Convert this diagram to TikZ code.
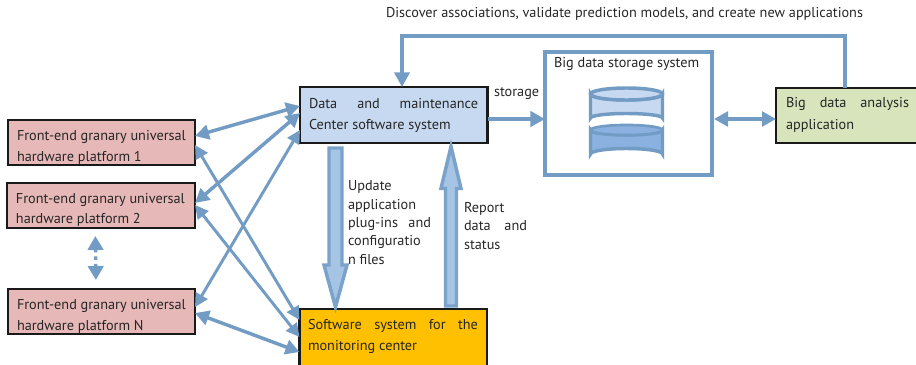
\documentclass[tikz,border=0pt]{standalone}
\usepackage{fontspec}
\setmainfont{PT Sans}
\usetikzlibrary{arrows.meta,calc}
\definecolor{arrowblue}{HTML}{729CC4}
\definecolor{bigfill}{HTML}{A6C4E4}
\definecolor{bigedge}{HTML}{7BA3CA}
\definecolor{pinkfill}{HTML}{E6B8B7}
\definecolor{datafill}{HTML}{C6D9F1}
\definecolor{softfill}{HTML}{FFC000}
\definecolor{greenfill}{HTML}{D7E4BC}
\definecolor{boxedge}{HTML}{1A1A1A}
\definecolor{cyllight}{HTML}{C6D9F1}
\definecolor{cyldark}{HTML}{8AB1DF}
\tikzset{
  dy/.style={yshift=-#1*0.75pt},
  dx/.style={xshift=#1*0.75pt},
  solidbox/.style={draw=boxedge,line width=1.8pt,anchor=north west,inner sep=0pt,outer sep=0pt},
  lbl/.style={anchor=base west,inner sep=0pt,outer sep=0pt,font=\fontsize{10.7pt}{12pt}\selectfont,text=black!85},
  twoway/.style={draw=arrowblue,line width=2.6pt,{Triangle[length=10.5pt,width=11pt]}-{Triangle[length=10.5pt,width=11pt]}},
  thinway/.style={draw=arrowblue,line width=2.2pt,{Triangle[length=10pt,width=10pt]}-{Triangle[length=10pt,width=10pt]}},
  oneway/.style={draw=arrowblue,line width=2.8pt,-{Triangle[length=11pt,width=11.5pt]}},
  bigarrow/.style={draw=bigedge,fill=bigfill,line width=2.6pt,line join=miter},
  cyl/.style={draw=arrowblue,line width=2.6pt},
}
\newcommand{\just}[2]{\makebox[\dimexpr#1pt*3/4\relax][s]{#2}}
\begin{document}
\begin{tikzpicture}[x=0.75pt,y=-0.75pt]
\useasboundingbox (0,0) rectangle (916,364);
\clip (0,0) rectangle (916,364);
% boxes
\node[solidbox,fill=pinkfill,minimum width=187*0.75pt,minimum height=45*0.75pt] (p1) at (8,120) {};
\node[solidbox,fill=pinkfill,minimum width=188*0.75pt,minimum height=45*0.75pt] (p2) at (7,183) {};
\node[solidbox,fill=pinkfill,minimum width=187*0.75pt,minimum height=45*0.75pt] (pn) at (8,289) {};
\node[solidbox,fill=datafill,minimum width=187.5*0.75pt,minimum height=56*0.75pt] (data) at (300,87) {};
\node[solidbox,fill=softfill,minimum width=187.5*0.75pt,minimum height=70*0.75pt] (soft) at (299.5,309) {};
\node[solidbox,draw=arrowblue,fill=white,line width=2.3pt,minimum width=167*0.75pt,minimum height=123*0.75pt] (store) at (545,52) {};
\node[solidbox,fill=greenfill,minimum width=160*0.75pt,minimum height=55*0.75pt] (ana) at (776,88) {};
% labels
\node[lbl] (t1a) at (17,140) {Front-end granary universal};
\node[lbl] (t1b) at (17,161) {hardware platform 1};
\node[lbl] (t2a) at (16,203) {Front-end granary universal};
\node[lbl] (t2b) at (16,223.5) {hardware platform 2};
\node[lbl] (t3a) at (17,309) {Front-end granary universal};
\node[lbl] (t3b) at (17,330) {hardware platform N};
\node[lbl] (t4a) at (309,108) {\just{169}{Data\hfill and\hfill maintenance}};
\node[lbl] (t4b) at (309,129) {Center software system};
\node[lbl] (t5a) at (308,329) {\just{170}{Software\hfill system\hfill for\hfill the}};
\node[lbl] (t5b) at (308,350) {monitoring center};
\node[lbl] (t6) at (494,96) {storage};
\node[lbl] (t7) at (554,67.5) {Big data storage system};
\node[lbl] (t8a) at (786,107.5) {\just{123}{Big\hfill data\hfill analysis}};
\node[lbl] (t8b) at (786,129) {application};
\node[lbl] (t9) at (386,17) {Discover associations, validate prediction models, and create new applications};
\node[lbl] (u1) at (348,190) {Update};
\node[lbl] (u2) at (348,209) {application};
\node[lbl] (u3) at (348,227.5) {\just{83}{plug-ins\hfill and}};
\node[lbl] (u4) at (348,245.5) {configuratio};
\node[lbl] (u5) at (348,264) {n files};
\node[lbl] (r1) at (464,212) {Report};
\node[lbl] (r2) at (464,230) {\just{63}{data\hfill and}};
\node[lbl] (r3) at (464,249) {status};
% two-way connectors
\draw[twoway] ([dy=16]p1.north east) -- ([dy=19]data.north west);
\draw[twoway] ([dy=20]p2.north east) -- ([dy=26]data.north west);
\draw[thinway] ([dy=18]pn.north east) -- ([dy=43]data.north west);
\draw[thinway] ([dy=25]p1.north east) -- ([dy=11]soft.north west);
\draw[thinway] ([dy=22]p2.north east) -- ([dy=28]soft.north west);
\draw[twoway] ([dy=24]pn.north east) -- ([dy=43]soft.north west);
% dotted link between platforms
\coordinate (dotA) at ($(p2.south west)!0.47!(p2.south east)+(0,8)$);
\coordinate (dotB) at ($(pn.north west)!0.47!(pn.north east)+(0,-9)$);
\draw[draw=arrowblue,line width=2.6pt,dash pattern=on 2.5pt off 3pt,{Triangle[length=10.5pt,width=11.5pt]}-{Triangle[length=10.5pt,width=11.5pt]}] (dotA) -- (dotB);
% storage links
\coordinate (stE) at ([dy=67]store.north east);
\draw[oneway] ([dy=32]data.north east) -- ([dy=67]store.north west);
\draw[twoway,line width=2.8pt] ([dx=2]stE) -- ([dy=31]ana.north west);
% feedback loop
\coordinate (loopS) at ([dx=69]ana.north west);
\coordinate (loopE) at ([dx=102]data.north west);
\draw[oneway,line width=2.3pt] (loopS) -- ++(0,-52) -| (loopE);
% big hollow arrows
\coordinate (dn) at ([dx=29,dy=5]data.south west);
\draw[bigarrow] (dn) -- ++(13,0) -- ++(0,117) -- ++(5,0) -- ++(-11.5,42) -- ++(-11.5,-42) -- ++(5,0) -- cycle;
\coordinate (upb) at ([dx=146,dy=-3]soft.north west);
\draw[bigarrow] (upb) -- ++(11,0) -- ++(0,-117.5) -- ++(4.5,0) -- ++(-10,-42) -- ++(-10,42) -- ++(4.5,0) -- cycle;
% cylinders
\coordinate (cyl) at ([dx=81.5,dy=42]store.north west);
\draw[cyl,fill=cyldark] ($(cyl)+(-36,36)$) arc[start angle=180,end angle=0,x radius=36,y radius=5] -- ++(0,24) arc[start angle=0,end angle=-180,x radius=36,y radius=5.5] -- cycle;
\draw[cyl,fill=cyldark,line width=2pt] ($(cyl)+(0,36)$) ellipse[x radius=36,y radius=5];
\draw[cyl,fill=cyllight] ($(cyl)+(-36,0)$) -- ++(0,24) arc[start angle=180,end angle=360,x radius=36,y radius=4.5] -- ++(0,-24) arc[start angle=0,end angle=180,x radius=36,y radius=6] -- cycle;
\draw[cyl,fill=cyllight] (cyl) ellipse[x radius=36,y radius=6];
\end{tikzpicture}
\end{document}
